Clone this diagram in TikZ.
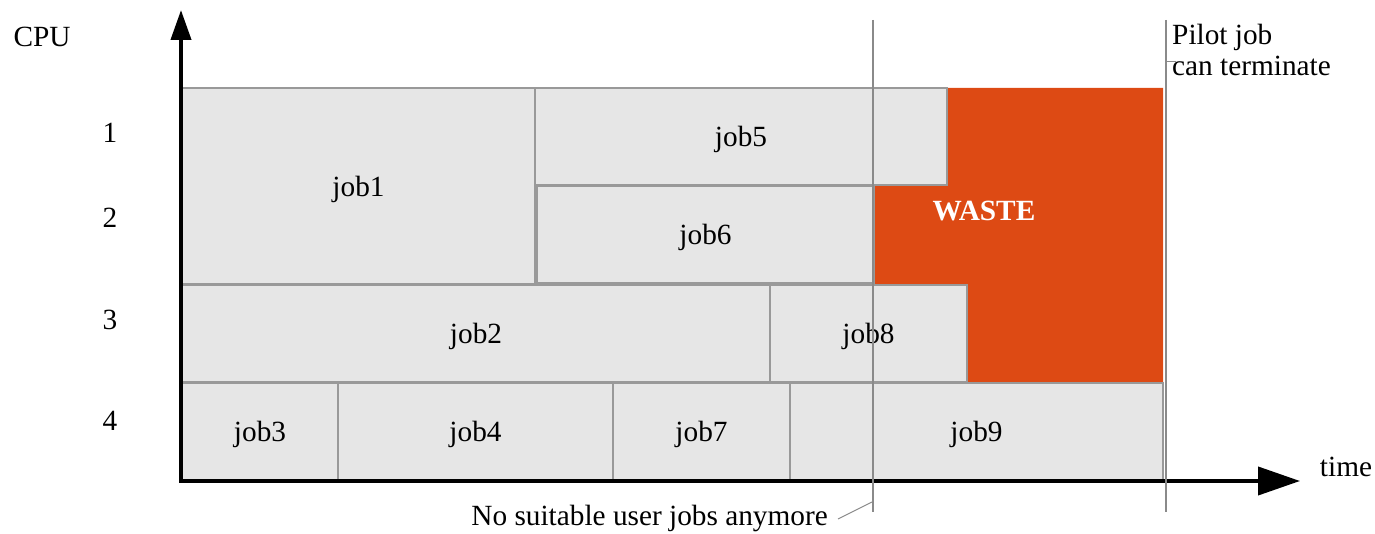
\documentclass[tikz,border=0pt]{standalone}
\usepackage{fontspec}
\setmainfont{Liberation Serif}
\usetikzlibrary{arrows.meta}
\definecolor{jobfill}{HTML}{E6E6E6}
\definecolor{jobline}{HTML}{999999}
\definecolor{marker}{HTML}{8A8A8A}
\definecolor{waste}{HTML}{DD4A14}
\begin{document}
\begin{tikzpicture}[x=1pt,y=-1pt,
  every node/.style={font=\fontsize{29.3}{31}\selectfont, inner sep=0pt},
  job/.style={draw=jobline, fill=jobfill, line width=1.2pt, rectangle, text depth=0pt},
  axis/.style={line width=4pt, line join=miter},
  markline/.style={draw=marker, line width=2pt},
  callout/.style={draw=marker, line width=1pt}]
\useasboundingbox (0,0) rectangle (1375,534);

% wasted CPU time
\fill[waste] (874,186) -- (947,186) -- (947,88) -- (1163,88) -- (1163,382)
  -- (967,382) -- (967,285) -- (874,285) -- cycle;

% jobs
\node[job, minimum width=353pt, minimum height=196pt] (job1) at (358.5,186) {job1};
\node[job, minimum width=412pt, minimum height=97pt] (job5) at (741,136.5) {job5};
\node[job, minimum width=337pt, minimum height=97pt] (job6) at (705.5,234.5) {job6};
\node[job, minimum width=588pt, minimum height=97pt] (job2) at (476,333.5) {job2};
\node[job, minimum width=197pt, minimum height=97pt] (job8) at (868.5,333.5) {job8};
\node[job, minimum width=156pt, minimum height=97pt] (job3) at (260,431.5) {job3};
\node[job, minimum width=275pt, minimum height=97pt] (job4) at (475.5,431.5) {job4};
\node[job, minimum width=177pt, minimum height=97pt] (job7) at (701.5,431.5) {job7};
\node[job, minimum width=373pt, minimum height=97pt] (job9) at (976.5,431.5) {job9};

\node[text=white, font=\fontsize{29.3}{31}\selectfont\bfseries] (wastelabel) at (984,211) {WASTE};

% axes
\coordinate (origin) at (181,481);
\coordinate (ytip) at (181,10);
\coordinate (xtip) at (1300,481);
\draw[axis, {Triangle[length=30pt,width=20pt]}-{Triangle[length=42pt,width=28pt]}]
  (ytip) -- (origin) -- (xtip);
\node (cpu) at (42,37) {CPU};
\node (time) at (1346,467) {time};
\node (cpu1) at (110,133) {1};
\node (cpu2) at (110,218) {2};
\node (cpu3) at (110,320) {3};
\node (cpu4) at (110,421) {4};

% event markers
\coordinate (nojobsTop) at (873,20);
\coordinate (nojobsBot) at (873,512);
\coordinate (pilotTop) at (1166,20);
\coordinate (pilotBot) at (1166,512);
\draw[markline] (nojobsTop) -- (nojobsBot);
\draw[markline] (pilotTop) -- (pilotBot);

\node[anchor=base east] (nojobs) at (828,525) {No suitable user jobs anymore};
\coordinate (nojobsA) at (838,519);
\coordinate (nojobsB) at (872,502);
\draw[callout] (nojobsA) -- (nojobsB);

\node[anchor=base west] (pilot1) at (1172,45) {Pilot job};
\node[anchor=base west] (pilot2) at (1172,76) {can terminate};
\coordinate (pilotA) at (1166,62);
\coordinate (pilotB) at (1176,62);
\draw[callout] (pilotA) -- (pilotB);
\end{tikzpicture}
\end{document}
